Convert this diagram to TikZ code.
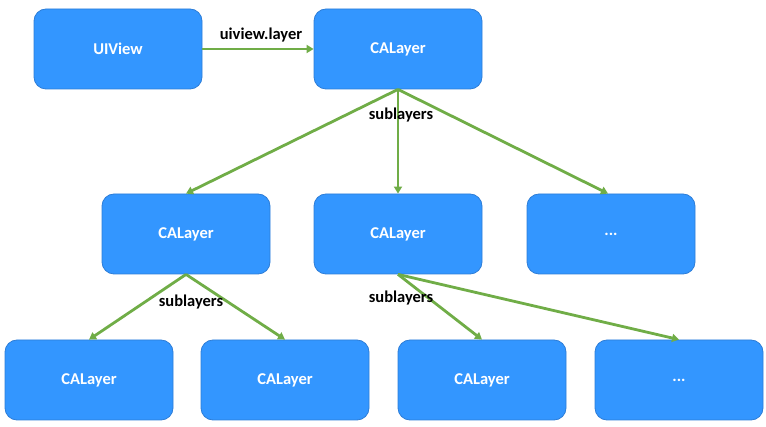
\documentclass[tikz,border=0pt]{standalone}
\usepackage{fontspec}
\setmainfont{Carlito}
\usetikzlibrary{arrows.meta}
\definecolor{boxfill}{RGB}{51,150,255}
\definecolor{boxline}{RGB}{45,125,215}
\definecolor{arr}{RGB}{112,173,71}
\begin{document}
\begin{tikzpicture}[x=1pt,y=-1pt,
  box/.style={draw=boxline,line width=0.8pt,fill=boxfill,rounded corners=12pt,
    minimum width=168pt,minimum height=80pt,inner sep=0pt,
    text=white,font=\bfseries\fontsize{16.5}{18}\selectfont},
  conn/.style={draw=arr,line width=2.8pt,-{Triangle[length=7pt,width=8pt]}},
  lbl/.style={font=\bfseries\fontsize{16.5}{18}\selectfont,text=black,inner sep=1pt}]
\useasboundingbox (0,0) rectangle (766,427);
\node[box] (uiview) at (118,49) {UIView};
\node[box] (top) at (398,49) {CALayer};
\node[box] (m1) at (186,234) {CALayer};
\node[box] (m2) at (398,234) {CALayer};
\node[box] (m3) at (611,234) {...};
\node[box] (b1) at (89,380) {CALayer};
\node[box] (b2) at (285,380) {CALayer};
\node[box] (b3) at (482,380) {CALayer};
\node[box] (b4) at (679,380) {...};
\draw[conn] (uiview.east) -- (top.west);
\node[lbl] (l0) at (261,35) {uiview.layer};
\draw[conn] (top.south) -- (m1.north);
\draw[conn] (top.south) -- (m2.north);
\draw[conn] (top.south) -- ([xshift=-3pt]m3.north);
\node[lbl] (l1) at (401,115) {sublayers};
\draw[conn] (m1.south) -- (b1.north);
\draw[conn] (m1.south) -- (b2.north);
\node[lbl] (l2) at (191,302) {sublayers};
\draw[conn] (m2.south) -- (b3.north);
\draw[conn] (m2.south) -- (b4.north);
\node[lbl] (l3) at (401,298) {sublayers};
\end{tikzpicture}
\end{document}
